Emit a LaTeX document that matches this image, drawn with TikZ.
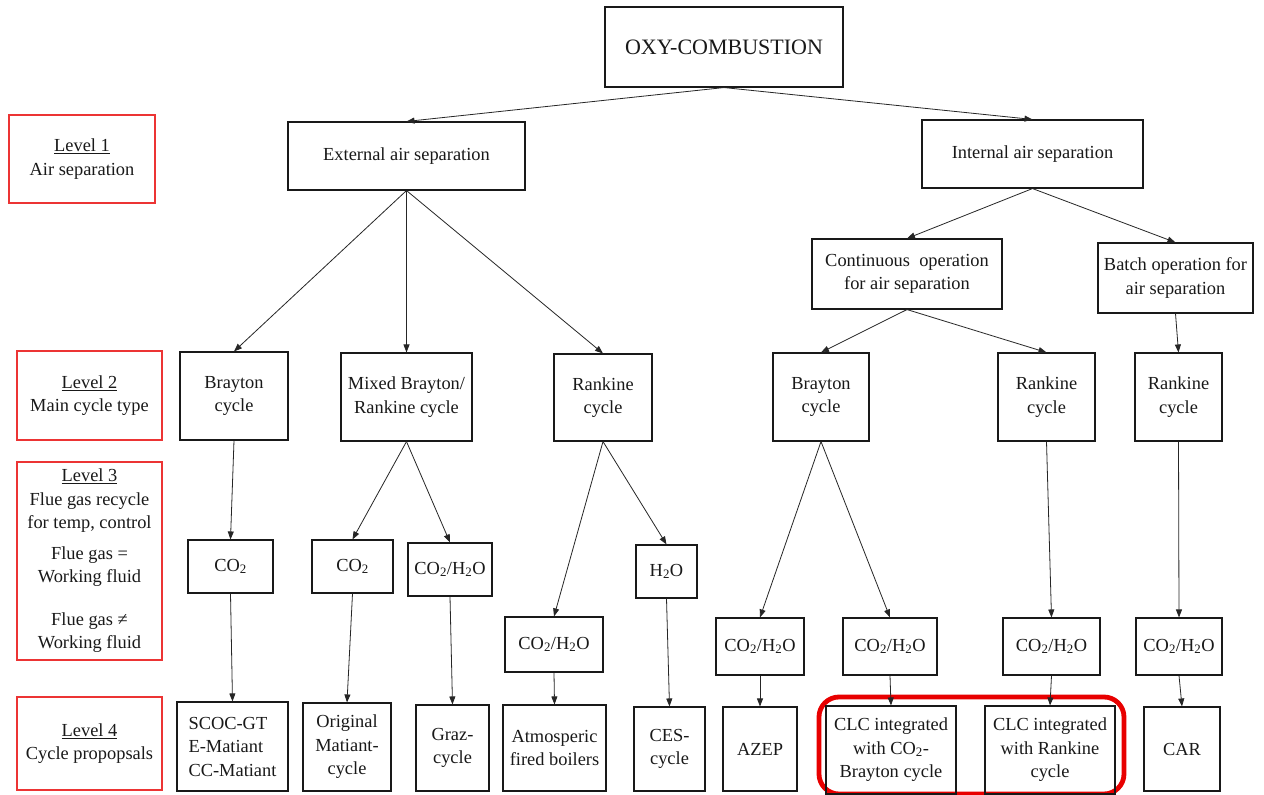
\documentclass[tikz,border=0pt]{standalone}
\usepackage{fontspec}
\setmainfont{Liberation Serif}
\usetikzlibrary{arrows.meta}
\definecolor{lvlred}{RGB}{236,52,52}
\definecolor{hlred}{RGB}{232,0,0}
\begin{document}
\begin{tikzpicture}[x=1pt,y=-1pt,
  every node/.style={font=\fontsize{18.4}{23.5}\selectfont, text=black!90},
  bx/.style={draw=black!90, line width=1.1pt, inner sep=0pt, align=center},
  lvl/.style={draw=lvlred, line width=1.3pt, inner sep=0pt, align=center},
  sz/.style 2 args={minimum width=#1, minimum height=#2},
  arr/.style={draw=black!85, line width=0.8pt, -{Triangle[length=8pt,width=6pt]}}]

\fill[white] (0,0) rectangle (1264,795);
\useasboundingbox (0,0) rectangle (1264,795);

% highlight frame around the two CLC proposals
\draw[hlred, line width=4.8pt, rounded corners=20pt] (819,697) rectangle (1124,794);

% level labels
\node[lvl, sz={146}{88}] (l1) at (82,159) {\underline{Level 1}\\Air separation};
\node[lvl, sz={145}{89}] (l2) at (89.5,395.5) {\underline{Level 2}\\Main cycle type};
\node[lvl, sz={145}{198}] (l3) at (89.5,561) {\underline{Level 3}\\Flue gas recycle\\for temp, control\\[7pt]Flue gas =\\Working fluid\\[19pt]Flue gas ≠\\Working fluid};
\node[lvl, sz={145}{93}] (l4) at (89.5,743.5) {\underline{Level 4}\\Cycle propopsals};

% root and air separation
\node[bx, sz={238}{80}, font=\fontsize{22}{26}\selectfont] (oxy) at (724,47) {OXY-COMBUSTION};
\node[bx, sz={237}{68}] (ext) at (406.5,156) {External air separation};
\node[bx, sz={221}{68}] (int) at (1032.5,154) {Internal air separation};
\node[bx, sz={190}{70}] (cont) at (907,274) {Continuous\ \ operation\\for air separation};
\node[bx, sz={155}{70}] (batch) at (1175.5,278) {Batch operation for\\air separation};

% main cycle types
\node[bx, sz={108}{88}] (bl) at (234,396) {Brayton\\cycle};
\node[bx, sz={131}{88}] (mix) at (406.5,397) {Mixed Brayton/\\Rankine cycle};
\node[bx, sz={98}{87}] (rk) at (603,397.5) {Rankine\\cycle};
\node[bx, sz={96}{88}] (br) at (821,397) {Brayton\\cycle};
\node[bx, sz={97}{88}] (rr) at (1046.5,397) {Rankine\\cycle};
\node[bx, sz={87}{88}] (rf) at (1178.5,397) {Rankine\\cycle};

% flue gas / working fluid
\node[bx, sz={85}{53}] (c1) at (230.5,566.5) {CO\textsubscript{2}};
\node[bx, sz={81}{53}] (c2) at (352.5,566.5) {CO\textsubscript{2}};
\node[bx, sz={84}{53}] (c3) at (450,569.5) {CO\textsubscript{2}/H\textsubscript{2}O};
\node[bx, sz={61}{53}] (h1) at (666.5,571.5) {H\textsubscript{2}O};
\node[bx, sz={98}{55}] (c4) at (554,644.5) {CO\textsubscript{2}/H\textsubscript{2}O};
\node[bx, sz={88}{57}] (c5) at (760,646.5) {CO\textsubscript{2}/H\textsubscript{2}O};
\node[bx, sz={94}{57}] (c6) at (890,646.5) {CO\textsubscript{2}/H\textsubscript{2}O};
\node[bx, sz={97}{57}] (c7) at (1051.5,646.5) {CO\textsubscript{2}/H\textsubscript{2}O};
\node[bx, sz={86}{57}] (c8) at (1179,646.5) {CO\textsubscript{2}/H\textsubscript{2}O};

% cycle proposals
\node[bx, sz={111}{89}, align=left] (sc) at (232.5,746.5) {SCOC-GT\\E-Matiant\\CC-Matiant};
\node[bx, sz={88}{88}] (om) at (347,747) {Original\\Matiant-\\cycle};
\node[bx, sz={73}{86}] (gz) at (452.5,748) {Graz-\\cycle};
\node[bx, sz={103}{86}] (at) at (554.5,748) {Atmosperic\\fired boilers};
\node[bx, sz={71}{84}] (ce) at (669.5,749) {CES-\\cycle};
\node[bx, sz={74}{84}] (az) at (760,749) {AZEP};
\node[bx, sz={130}{88}] (cb) at (891,750) {CLC integrated\\with CO\textsubscript{2}-\\Brayton cycle};
\node[bx, sz={130}{88}] (cr) at (1050,750) {CLC integrated\\with Rankine\\cycle};
\node[bx, sz={76}{84}] (car) at (1182,749) {CAR};

% connectors
\draw[arr] (oxy.south) -- (ext.north);
\draw[arr] (oxy.south) -- (int.north);
\draw[arr] (ext.south) -- (bl.north);
\draw[arr] (ext.south) -- (mix.north);
\draw[arr] (ext.south) -- (rk.north);
\draw[arr] (int.south) -- (cont.north);
\draw[arr] (int.south) -- (batch.north);
\draw[arr] (cont.south) -- (br.north);
\draw[arr] (cont.south) -- (rr.north);
\draw[arr] (batch.south) -- (rf.north);

\draw[arr] (bl.south) -- (c1.north);
\draw[arr] (mix.south) -- (c2.north);
\draw[arr] (mix.south) -- (c3.north);
\draw[arr] (rk.south) -- (c4.north);
\draw[arr] (rk.south) -- (h1.north);
\draw[arr] (br.south) -- (c5.north);
\draw[arr] (br.south) -- (c6.north);
\draw[arr] (rr.south) -- (c7.north);
\draw[arr] (rf.south) -- (c8.north);

\draw[arr] (c1.south) -- (sc.north);
\draw[arr] (c2.south) -- (om.north);
\draw[arr] (c3.south) -- (gz.north);
\draw[arr] (c4.south) -- (at.north);
\draw[arr] (h1.south) -- (ce.north);
\draw[arr] (c5.south) -- (az.north);
\draw[arr] (c6.south) -- (cb.north);
\draw[arr] (c7.south) -- (cr.north);
\draw[arr] (c8.south) -- (car.north);
\end{tikzpicture}
\end{document}
